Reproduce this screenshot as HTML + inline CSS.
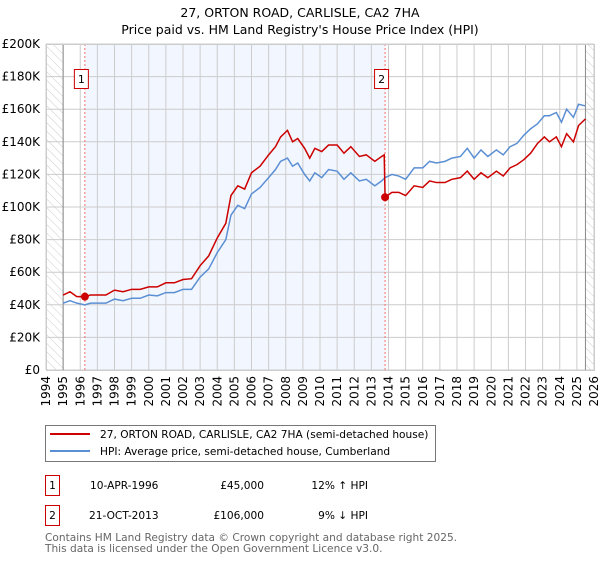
<!DOCTYPE html>
<html><head><meta charset="utf-8"><style>
body{margin:0;background:#fff;width:600px;height:560px;overflow:hidden;font-family:"DejaVu Sans","Liberation Sans",sans-serif;}
svg text{font-family:"DejaVu Sans","Liberation Sans",sans-serif;}
</style></head><body>
<svg id="chart" width="600" height="560" xmlns="http://www.w3.org/2000/svg">
<defs><pattern id="hatch" patternUnits="userSpaceOnUse" width="6" height="6" patternTransform="rotate(-45)"><line x1="0" y1="0" x2="0" y2="6" stroke="#ccc" stroke-width="1"/></pattern></defs>
<text x="300" y="17" text-anchor="middle" font-size="12.5">27, ORTON ROAD, CARLISLE, CA2 7HA</text>
<text x="300" y="34" text-anchor="middle" font-size="12.5">Price paid vs. HM Land Registry's House Price Index (HPI)</text>
<g id="plot"></g>
<g>
<rect x="45.5" y="425.5" width="390" height="36" fill="#fff" stroke="#777"/>
<line x1="50" y1="434" x2="90" y2="434" stroke="#cc0000" stroke-width="2"/>
<text x="100" y="438" font-size="10.6">27, ORTON ROAD, CARLISLE, CA2 7HA (semi-detached house)</text>
<line x1="50" y1="451" x2="90" y2="451" stroke="#5b8fd4" stroke-width="2"/>
<text x="100" y="455" font-size="10.6">HPI: Average price, semi-detached house, Cumberland</text>
</g>
<g font-size="10.6">
<rect x="45.5" y="475.5" width="14" height="20" fill="#fff" stroke="#cc0000"/>
<text x="52.5" y="489" text-anchor="middle">1</text>
<text x="90" y="489">10-APR-1996</text>
<text x="264" y="489" text-anchor="end">£45,000</text>
<text x="368" y="489" text-anchor="end">12% ↑ HPI</text>
</g>
<g font-size="10.6">
<rect x="45.5" y="505.5" width="14" height="20" fill="#fff" stroke="#cc0000"/>
<text x="52.5" y="519" text-anchor="middle">2</text>
<text x="89" y="519">21-OCT-2013</text>
<text x="264" y="519" text-anchor="end">£106,000</text>
<text x="368" y="519" text-anchor="end">9% ↓ HPI</text>
</g>
<text x="45" y="541" font-size="10.6" fill="#666">Contains HM Land Registry data © Crown copyright and database right 2025.</text>
<text x="45" y="552" font-size="10.6" fill="#666">This data is licensed under the Open Government Licence v3.0.</text>
</svg>
<script>
const hpiYears=[1995,1995.4,1995.8,1996.27,1996.6,1997,1997.5,1998,1998.5,1999,1999.5,2000,2000.5,2001,2001.5,2002,2002.5,2003,2003.5,2004,2004.5,2004.8,2005.2,2005.6,2006,2006.5,2007,2007.4,2007.7,2008.1,2008.4,2008.7,2009.1,2009.4,2009.7,2010.1,2010.5,2011,2011.4,2011.8,2012.3,2012.7,2013.2,2013.6,2013.8,2014.2,2014.6,2015,2015.5,2016,2016.4,2016.8,2017.3,2017.7,2018.2,2018.6,2019,2019.4,2019.8,2020.3,2020.7,2021.1,2021.5,2021.9,2022.3,2022.7,2023.1,2023.4,2023.8,2024.1,2024.4,2024.8,2025.1,2025.5];
const hpiValues=[41,42.5,41,40,41,41,41,43.5,42.5,44,44,46,45.5,47.5,47.5,49.5,49.5,57,62,72,80,95,101,99,108,112,118,123,128,130,125,127,120,116,121,118,123,122,117,121,116,117,113,116,118,120,119,117,124,124,128,127,128,130,131,136,130,135,131,135,132,137,139,144,148,151,156,156,158,152,160,155,163,162,157,167,171,170];
const priceYears=[1995,1995.4,1995.8,1996.27,1996.6,1997,1997.5,1998,1998.5,1999,1999.5,2000,2000.5,2001,2001.5,2002,2002.5,2003,2003.5,2004,2004.5,2004.8,2005.2,2005.6,2006,2006.5,2007,2007.4,2007.7,2008.1,2008.4,2008.7,2009.1,2009.4,2009.7,2010.1,2010.5,2011,2011.4,2011.8,2012.3,2012.7,2013.2,2013.6,2013.75,2013.8,2014.2,2014.6,2015,2015.5,2016,2016.4,2016.8,2017.3,2017.7,2018.2,2018.6,2019,2019.4,2019.8,2020.3,2020.7,2021.1,2021.5,2021.9,2022.3,2022.7,2023.1,2023.4,2023.8,2024.1,2024.4,2024.8,2025.1,2025.5];
const priceValues=[46,48,45,45,46,46,46,49,48,49.5,49.5,51,51,53.5,53.5,55.5,56,64,70,81,90,107,113,111,121,125,132,137,143,147,140,142,136,130,136,134,138,138,133,137,131,132,128,131,132,106,109,109,107,113,112,116,115,115,117,118,122,117,121,118,122,119,124,126,129,133,139,143,140,143,137,145,140,150,154,154];
const sales=[{t:1996.27,v:45,label:"1"},{t:2013.8,v:106,label:"2"}];
const yTicks=[0,20,40,60,80,100,120,140,160,180,200];
const xTicks=[1994,1995,1996,1997,1998,1999,2000,2001,2002,2003,2004,2005,2006,2007,2008,2009,2010,2011,2012,2013,2014,2015,2016,2017,2018,2019,2020,2021,2022,2023,2024,2025,2026];

const X0=46,X1=594,Y0=370,Y1=44;
const xs=t=>X0+(t-1994)/32*(X1-X0);
const ys=v=>Y0-v/200*(Y0-Y1);
const NS="http://www.w3.org/2000/svg";
const g=document.getElementById('plot');
function mk(tag,attrs,parent){const e=document.createElementNS(NS,tag);for(const k in attrs)e.setAttribute(k,attrs[k]);(parent||g).appendChild(e);return e;}

let e;
e=mk('rect',{x:xs(sales[0].t),y:Y1,width:xs(sales[1].t)-xs(sales[0].t),height:Y0-Y1,fill:'#f2f6fe'});


e=mk('rect',{x:X0,y:Y1,width:xs(1995)-X0,height:Y0-Y1,fill:'url(#hatch)'});


e=mk('rect',{x:xs(2025.5),y:Y1,width:X1-xs(2025.5),height:Y0-Y1,fill:'url(#hatch)'});



yTicks.forEach(v=>{
  const l=mk('line',{x1:X0,x2:X1,y1:ys(v),y2:ys(v),stroke:'#ccc','stroke-width':1});
  
  
  const t=mk('text',{x:X0-6,y:ys(v)+4,'text-anchor':'end','font-size':12});
  
  
  t.textContent=v===0?'£0':'£'+v+'K';
});
xTicks.forEach(yr=>{
  const l=mk('line',{x1:xs(yr),x2:xs(yr),y1:Y1,y2:Y0,stroke:'#ccc','stroke-width':1});
  
  
  const t=mk('text',{x:0,y:0,'text-anchor':'end','font-size':12,transform:`translate(${xs(yr)+4},${Y0+6}) rotate(-90)`});
  
  
  t.textContent=yr;
});
e=mk('line',{x1:xs(1995),x2:xs(1995),y1:Y1,y2:Y0,stroke:'#888'});


e=mk('line',{x1:xs(2025.5),x2:xs(2025.5),y1:Y1,y2:Y0,stroke:'#888'});



sales.forEach(s=>{
  const l=mk('line',{x1:xs(s.t),x2:xs(s.t),y1:Y1,y2:Y0,stroke:'#f07070','stroke-dasharray':'2,2'});
  
  
});

const hp=mk('polyline',{points:hpiYears.map((t,i)=>xs(t)+','+ys(hpiValues[i])).join(' '),fill:'none',stroke:'#5b8fd4','stroke-width':1.5});


const pp=mk('polyline',{points:priceYears.map((t,i)=>xs(t)+','+ys(priceValues[i])).join(' '),fill:'none',stroke:'#cc0000','stroke-width':1.5});



sales.forEach(s=>{
  const c=mk('circle',{cx:xs(s.t),cy:ys(s.v),r:4,fill:'#cc0000'});
  
  
  const r=mk('rect',{x:xs(s.t)-10.5,y:69.5,width:14,height:19,fill:'#fff',stroke:'#cc0000'});
  
  
  const t=mk('text',{x:xs(s.t)-3.5,y:83,'text-anchor':'middle','font-size':11});
  
  
  t.textContent=s.label;
});
const b=mk('rect',{x:X0+0.5,y:Y1+0.5,width:X1-X0,height:Y0-Y1,fill:'none',stroke:'#ccc'});


</script>
</body></html>
